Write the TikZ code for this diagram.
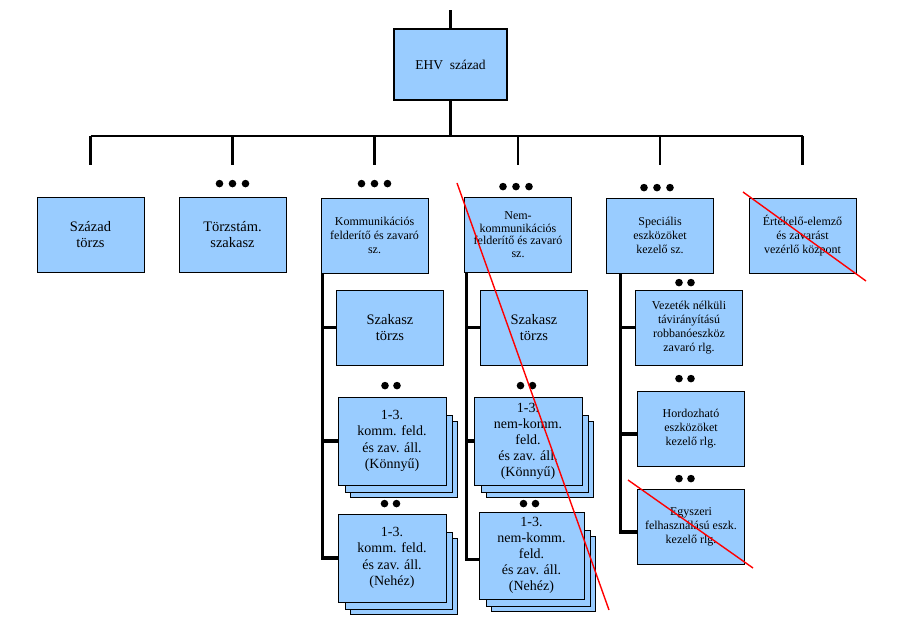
\documentclass[tikz,border=0pt]{standalone}
\usepackage{fontspec}
\setmainfont{Liberation Serif}
\usetikzlibrary{calc, positioning}
\definecolor{unitblue}{HTML}{99CCFF}
\definecolor{strikered}{HTML}{FF0000}
\pgfdeclarelayer{paper}
\pgfdeclarelayer{back}
\pgfsetlayers{paper,back,main}
\tikzset{
  %unit box style
  unit/.style={
    draw
    , fill=unitblue
    , line width=0.8pt
    , anchor=center
    , align=center
    , inner sep=1pt
    , minimum width=107pt
    , minimum height=75pt
    , font=\fontsize{14.5}{16}\selectfont
    %, rounded corners
  },
  %head of the tree
  headunit/.style={
    unit
    , line width=2.4pt
    , minimum width=113pt
    , minimum height=71pt
    , font=\fontsize{13.5}{15}\selectfont
  },
  smallunit/.style={
    unit
    , font=\fontsize{12}{14}\selectfont
  },
  %platoons drawn as a pile of sheets
  stackunit/.style={
    unit
    , minimum width=108pt
    , minimum height=88pt
    , font=\fontsize{14}{16.5}\selectfont
  },
  backsheet/.style={
    draw
    , fill=unitblue
    , line width=0.8pt
  },
  tree/.style={
    draw
    , line width=2.2pt
  },
  spine/.style={
    draw
    , line width=3.2pt
  },
  strike/.style={
    draw=strikered
    , line width=1.4pt
  },
}

\begin{document}
\begin{tikzpicture}[x=1pt, y=-1pt]
  \useasboundingbox (0,0) rectangle (908,620);
  \begin{pgfonlayer}{paper}
    \fill[white] (0,0) rectangle (908,620);
  \end{pgfonlayer}

  % top of the tree
  \node[headunit] (ehv) at (450.5,64.5) {EHV\ \ század};

  \node[unit] (torzs) at (90.5,234.5) {Század\\törzs};
  \node[unit] (torzstam) at (232.5,234.5) {Törzstám.\\szakasz};
  \node[smallunit] (komm) at (374.5,235.5) {Kommunikációs\\felderítő és zavaró\\sz.};
  \node[smallunit, font=\fontsize{12}{12.5}\selectfont] (nemkomm) at (518,234.5)
    {Nem-\\kommunikációs\\felderítő és zavaró\\sz.};
  \node[smallunit] (spec) at (660,235.5) {Speciális\\eszközöket\\kezelő sz.};
  \node[smallunit] (ertekelo) at (802.5,235.5) {Értékelő-elemző\\és zavarást\\vezérlő központ};

  \coordinate (top) at (450.5,10);
  \coordinate (bus) at (0,136);
  \coordinate (drop) at (0,165);
  \draw[tree] (ehv.north) -- (top);
  \draw[tree] (ehv.south) -- (ehv.south |- bus);
  \draw[tree] (torzs.north |- bus) -- (ertekelo.north |- bus);
  \foreach \n in {torzs,torzstam,komm,nemkomm,spec,ertekelo}
    \draw[tree] (\n.north |- bus) -- (\n.north |- drop);

  % three dots above the units
  \foreach \n/\dx/\dy in {torzstam/0/13, komm/0/14, nemkomm/-2/10, spec/-3/10}
    \foreach \d in {-13,0,13}
      \fill ([shift={(\dx pt+\d pt,\dy pt)}]\n.north) circle (3.8pt);

  % communication column
  \node[unit] (kszt) at (390,327.5) {Szakasz\\törzs};
  \node[stackunit] (kkonnyu) at (392,441) {1-3.\\komm. feld.\\és zav. áll.\\(Könnyű)};
  \node[stackunit] (knehez) at (392,558) {1-3.\\komm. feld.\\és zav. áll.\\(Nehéz)};

  % non-communication column
  \node[unit] (nszt) at (534,327.5) {Szakasz\\törzs};
  \node[stackunit, font=\fontsize{14}{16}\selectfont] (nkonnyu) at (528,441)
    {1-3.\\nem-komm.\\feld.\\és zav. áll.\\(Könnyű)};
  \node[stackunit, font=\fontsize{14}{16}\selectfont, minimum width=105pt, minimum height=87pt]
    (nnehez) at (531.5,555.5) {1-3.\\nem-komm.\\feld.\\és zav. áll.\\(Nehéz)};

  % special column
  \node[smallunit] (vezetek) at (689,327.5)
    {Vezeték nélküli\\távirányítású\\robbanóeszköz\\zavaró rlg.};
  \node[smallunit] (hordoz) at (691,428.5) {Hordozható\\eszközöket\\kezelő rlg.};
  \node[smallunit] (egyszeri) at (691,526.5) {Egyszeri\\felhasználású eszk.\\kezelő rlg.};

  % sheets behind the platoons
  \begin{pgfonlayer}{back}
    \foreach \n in {kkonnyu,knehez,nkonnyu,nnehez} {
      \draw[backsheet] ($(\n.south west)+(13,12)$) rectangle ($(\n.north east)+(11,25)$);
      \draw[backsheet] ($(\n.south west)+(8,7)$) rectangle ($(\n.north east)+(6,19)$);
    }
  \end{pgfonlayer}

  % two dots above the sub-units
  \foreach \n/\dx/\dy in {kkonnyu/-1/11, knehez/-1.5/10, nkonnyu/-1.5/11, nnehez/-2/8,
                          vezetek/-4/7, hordoz/-6/12, egyszeri/-6/10}
    \foreach \d in {-6,6}
      \fill ([shift={(\dx pt+\d pt,\dy pt)}]\n.north) circle (3.8pt);

  % spines of the columns
  \coordinate (kspine) at ([xshift=2pt]komm.south west);
  \coordinate (nspine) at ([xshift=2pt]nemkomm.south west);
  \coordinate (sspine) at ([xshift=14pt]spec.south west);
  \draw[spine] (kspine) |- (knehez.west);
  \foreach \n in {kszt,kkonnyu}
    \draw[spine] (\n.west) -- (\n.west -| kspine);
  \draw[spine] (nspine) |- ([yshift=-4pt]nnehez.west);
  \foreach \n in {nszt,nkonnyu}
    \draw[spine] (\n.west) -- (\n.west -| nspine);
  \draw[spine] (sspine) |- ([yshift=-5.5pt]egyszeri.west);
  \draw[spine] (vezetek.west) -- (vezetek.west -| sspine);
  \draw[spine] ([yshift=-5.5pt]hordoz.west) -- ([yshift=-5.5pt]hordoz.west -| sspine);

  % struck out units
  \draw[strike] (457,183) -- (609,610);
  \draw[strike] (743,192) -- (866,281);
  \draw[strike] (628,480) -- (753,568);
\end{tikzpicture}
\end{document}
